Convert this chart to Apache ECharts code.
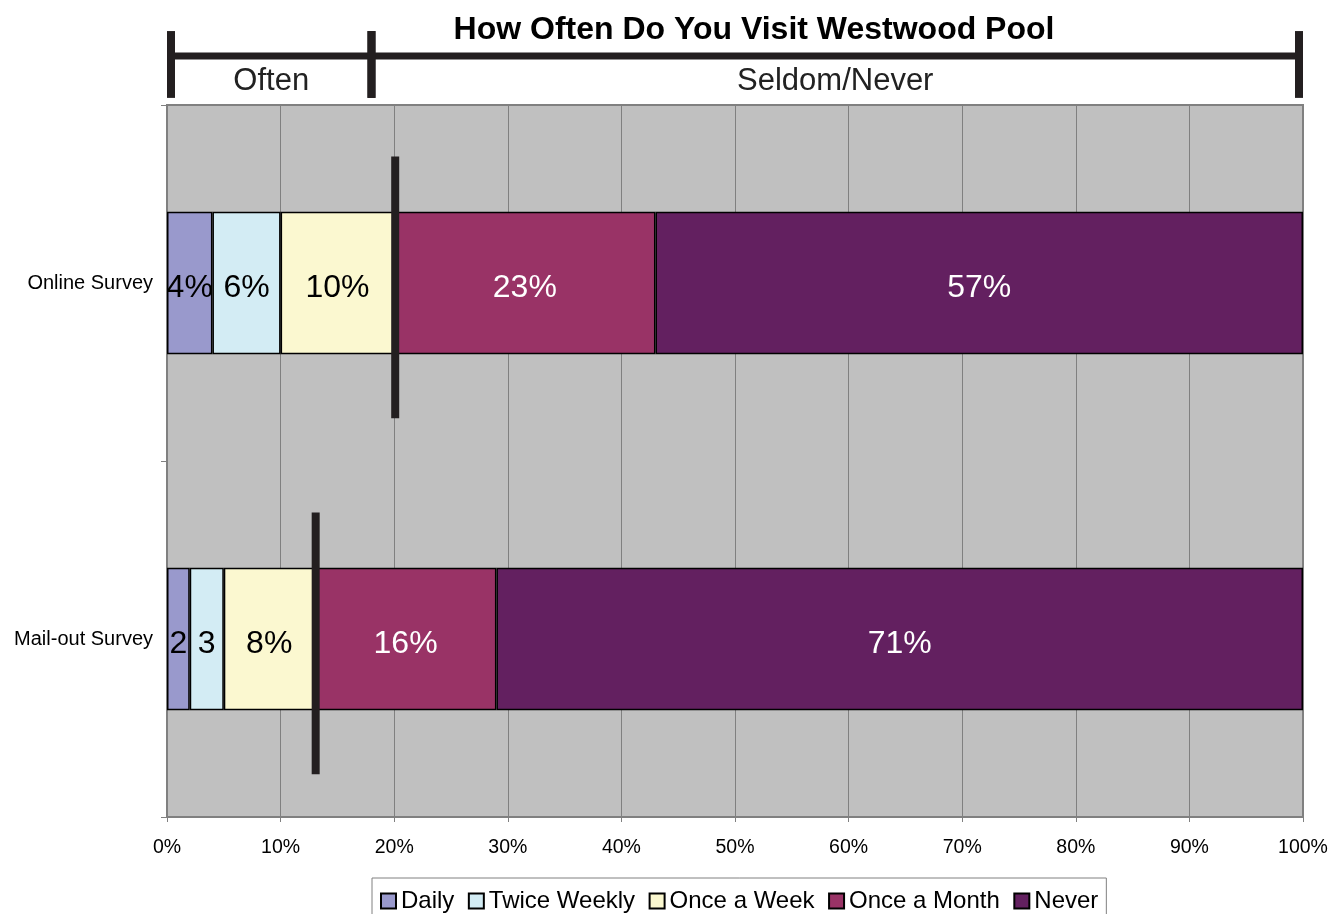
<!DOCTYPE html>
<html>
<head>
<meta charset="utf-8">
<title>How Often Do You Visit Westwood Pool</title>
<script src="https://cdn.jsdelivr.net/npm/echarts@6/dist/echarts.min.js"></script>
<style>
  html, body { margin: 0; padding: 0; background: #ffffff; }
  #chart { width: 1332px; height: 914px; }
</style>
</head>
<body>
<div id="chart"></div>
<script>
// Survey responses, percent of respondents
const categories = ['Online Survey', 'Mail-out Survey'];
const daily = [4, 2];
const twiceWeekly = [6, 3];
const onceAWeek = [10, 8];
const onceAMonth = [23, 16];
const never = [57, 71];

// Header bracket grouping along the percent scale
const bracketLabels = ['Often', 'Seldom/Never'];
const bracketBreaks = [0, 18, 100];

const xTicks = [0, 10, 20, 30, 40, 50, 60, 70, 80, 90, 100];

const FONT = "'Liberation Sans', Arial, Helvetica, sans-serif";
const INK = '#231f20';

const seriesDefs = [
  { name: 'Daily', values: daily, color: '#9999cc', text: '#000000' },
  { name: 'Twice Weekly', values: twiceWeekly, color: '#d3ecf4', text: '#000000' },
  { name: 'Once a Week', values: onceAWeek, color: '#fbf8d0', text: '#000000' },
  { name: 'Once a Month', values: onceAMonth, color: '#993366', text: '#ffffff' },
  { name: 'Never', values: never, color: '#632060', text: '#ffffff' }
];

// Cumulative share of the "often" answers for each survey
const oftenTotals = categories.map((c, i) => [daily[i] + twiceWeekly[i] + onceAWeek[i], i]);

const bracketData = bracketLabels.map((lab, i) => [bracketBreaks[i], bracketBreaks[i + 1]]);

function renderBracket(params, api) {
  const cs = params.coordSys;
  const half = 4;
  const x0 = Math.max(api.coord([api.value(0), 0])[0], cs.x + half);
  const x1 = Math.min(api.coord([api.value(1), 0])[0], cs.x + cs.width - half);
  const lineY = cs.y + cs.height * 0.37;
  const tickTop = cs.y + cs.height * 0.015;
  const tickBottom = cs.y + cs.height * 0.97;
  const lineStyle = { stroke: INK, lineWidth: 8 };
  return {
    type: 'group',
    children: [
      { type: 'line', shape: { x1: x0, y1: lineY, x2: x1, y2: lineY }, style: { stroke: INK, lineWidth: 7 } },
      { type: 'line', shape: { x1: x0, y1: tickTop, x2: x0, y2: tickBottom }, style: lineStyle },
      { type: 'line', shape: { x1: x1, y1: tickTop, x2: x1, y2: tickBottom }, style: lineStyle },
      {
        type: 'text',
        style: {
          x: (x0 + x1) / 2, y: cs.y + cs.height * 0.73,
          text: bracketLabels[params.dataIndex],
          align: 'center', verticalAlign: 'middle',
          font: "31px " + FONT, fill: '#222222'
        }
      }
    ]
  };
}

function renderMarker(params, api) {
  const p = api.coord([api.value(0), api.value(1)]);
  const band = api.size([0, 1])[1];
  return {
    type: 'rect',
    shape: { x: p[0] - 3, y: p[1] - 0.355 * band, width: 8, height: 0.735 * band },
    style: { fill: INK }
  };
}

const barSeries = seriesDefs.map(d => ({
  name: d.name,
  type: 'bar',
  stack: 'total',
  xAxisIndex: 0,
  yAxisIndex: 0,
  barWidth: '40%',
  data: d.values,
  itemStyle: { color: d.color, borderColor: '#000000', borderWidth: 1.5 },
  label: {
    show: true,
    position: 'inside',
    offset: [0, 5],
    fontFamily: FONT,
    fontSize: 32,
    color: d.text,
    formatter: p => (p.value < 4 ? String(p.value) : p.value + '%')
  },
  emphasis: { disabled: true },
  animation: false
}));

const chart = echarts.init(document.getElementById('chart'), null, { renderer: 'canvas' });

chart.setOption({
  animation: false,
  backgroundColor: '#ffffff',
  textStyle: { fontFamily: FONT },
  title: {
    text: 'How Often Do You Visit Westwood Pool',
    left: 749,
    textAlign: 'center',
    top: 9,
    textStyle: { fontFamily: FONT, fontSize: 32, fontWeight: 'bold', color: '#000000' }
  },
  legend: {
    data: seriesDefs.map(d => d.name),
    left: 372,
    top: 878,
    icon: 'rect',
    itemWidth: 15,
    itemHeight: 15,
    itemGap: 13.5,
    padding: [11, 8, 9, 8],
    borderColor: '#808080',
    borderWidth: 1,
    textStyle: { fontFamily: FONT, fontSize: 24, color: '#000000' },
    selectedMode: false
  },
  grid: [
    {
      left: 167, right: 29, top: 105, bottom: 97,
      show: true,
      backgroundColor: '#c0c0c0',
      borderColor: '#808080',
      borderWidth: 2,
      containLabel: false
    },
    { left: 167, right: 29, top: 30, height: 70, show: false }
  ],
  xAxis: [
    {
      type: 'value',
      gridIndex: 0,
      min: xTicks[0],
      max: xTicks[xTicks.length - 1],
      interval: xTicks[1] - xTicks[0],
      axisLine: { show: true, lineStyle: { color: '#808080', width: 2 } },
      axisTick: { show: true, length: 5, lineStyle: { color: '#808080' } },
      splitLine: { show: true, lineStyle: { color: '#808080', width: 1 } },
      axisLabel: { formatter: '{value}%', fontFamily: FONT, fontSize: 19.5, color: '#000000', margin: 21 }
    },
    { type: 'value', gridIndex: 1, min: 0, max: 100, show: false }
  ],
  yAxis: [
    {
      type: 'category',
      gridIndex: 0,
      data: categories,
      inverse: true,
      axisLine: { show: true, lineStyle: { color: '#808080', width: 2 } },
      axisTick: { show: true, length: 6, lineStyle: { color: '#808080' } },
      splitLine: { show: false },
      axisLabel: { fontFamily: FONT, fontSize: 20, color: '#000000', margin: 14, padding: [8, 0, 0, 0] }
    },
    { type: 'value', gridIndex: 1, min: 0, max: 1, show: false }
  ],
  series: barSeries.concat([
    {
      name: 'often-marker',
      type: 'custom',
      xAxisIndex: 0,
      yAxisIndex: 0,
      data: oftenTotals,
      encode: { x: 0, y: 1 },
      renderItem: renderMarker,
      z: 5,
      silent: true
    },
    {
      name: 'bracket',
      type: 'custom',
      xAxisIndex: 1,
      yAxisIndex: 1,
      data: bracketData,
      encode: { x: [0, 1] },
      renderItem: renderBracket,
      z: 5,
      silent: true,
      clip: false
    }
  ])
});
</script>
</body>
</html>
